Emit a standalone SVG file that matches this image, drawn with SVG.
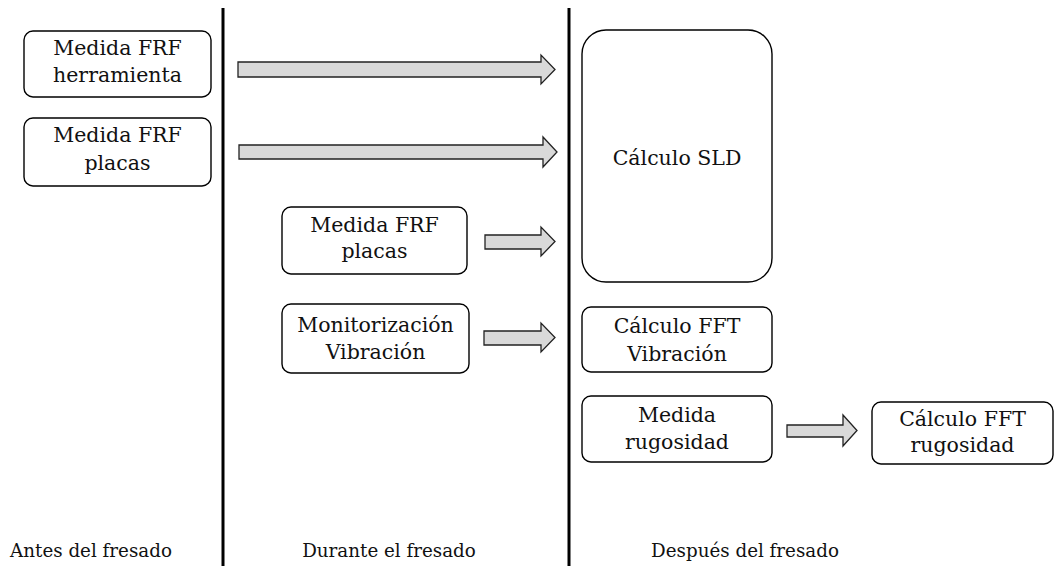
<svg xmlns="http://www.w3.org/2000/svg" width="1055" height="566" viewBox="0 0 1055 566">
<style>
.box{fill:#fff;stroke:#000;stroke-width:1.4}
.t{font-family:"DejaVu Serif","Liberation Serif",serif;font-size:20.5px;fill:#111;text-anchor:middle}
.lbl{font-family:"DejaVu Serif","Liberation Serif",serif;font-size:18.3px;fill:#111;text-anchor:middle}
.arr{fill:#d9d9d9;stroke:#222;stroke-width:1.3;stroke-linejoin:miter}
.div{stroke:#000;stroke-width:3}
</style>
<rect width="1055" height="566" fill="#fff"/>
<g id="dividers">
<line class="div" x1="223" y1="8" x2="223" y2="566"/>
<line class="div" x1="569" y1="8" x2="569" y2="566"/>
</g>
<g id="n1"><rect class="box" x="24" y="31" width="187" height="66" rx="9"/>
<text class="t" x="117.5" y="55">Medida FRF</text><text class="t" x="117.5" y="82">herramienta</text></g>
<g id="n2"><rect class="box" x="24" y="118" width="187" height="68" rx="9"/>
<text class="t" x="117.5" y="142">Medida FRF</text><text class="t" x="117.5" y="170">placas</text></g>
<g id="n3"><rect class="box" x="282" y="207" width="185" height="67" rx="9"/>
<text class="t" x="374.5" y="232">Medida FRF</text><text class="t" x="374.5" y="258">placas</text></g>
<g id="n4"><rect class="box" x="282" y="304" width="187" height="69" rx="9"/>
<text class="t" x="375.5" y="332">Monitorización</text><text class="t" x="375.5" y="359">Vibración</text></g>
<g id="n5"><rect class="box" x="582" y="30" width="190" height="252" rx="24"/>
<text class="t" x="677" y="165">Cálculo SLD</text></g>
<g id="n6"><rect class="box" x="582" y="307" width="190" height="65" rx="9"/>
<text class="t" x="677" y="333">Cálculo FFT</text><text class="t" x="677" y="361">Vibración</text></g>
<g id="n7"><rect class="box" x="582" y="396" width="190" height="66" rx="9"/>
<text class="t" x="677" y="422">Medida</text><text class="t" x="677" y="449">rugosidad</text></g>
<g id="n8"><rect class="box" x="872" y="402" width="181" height="62" rx="9"/>
<text class="t" x="962.5" y="426">Cálculo FFT</text><text class="t" x="962.5" y="452">rugosidad</text></g>
<g id="connectors">
<polygon class="arr" points="238,62 541,62 541,55 555,69.5 541,84 541,77 238,77"/>
<polygon class="arr" points="239,145 543,145 543,137 557,152 543,167 543,159 239,159"/>
<polygon class="arr" points="485,235 541,235 541,227 555,241.5 541,256 541,249 485,249"/>
<polygon class="arr" points="484,331 541,331 541,323 555,337.5 541,352 541,345 484,345"/>
<polygon class="arr" points="787,425 843,425 843,415 857,430.5 843,446 843,437 787,437"/>
</g>
<g id="labels">
<text class="lbl" x="91" y="557">Antes del fresado</text>
<text class="lbl" x="389" y="557">Durante el fresado</text>
<text class="lbl" x="745" y="557">Después del fresado</text>
</g>
</svg>
